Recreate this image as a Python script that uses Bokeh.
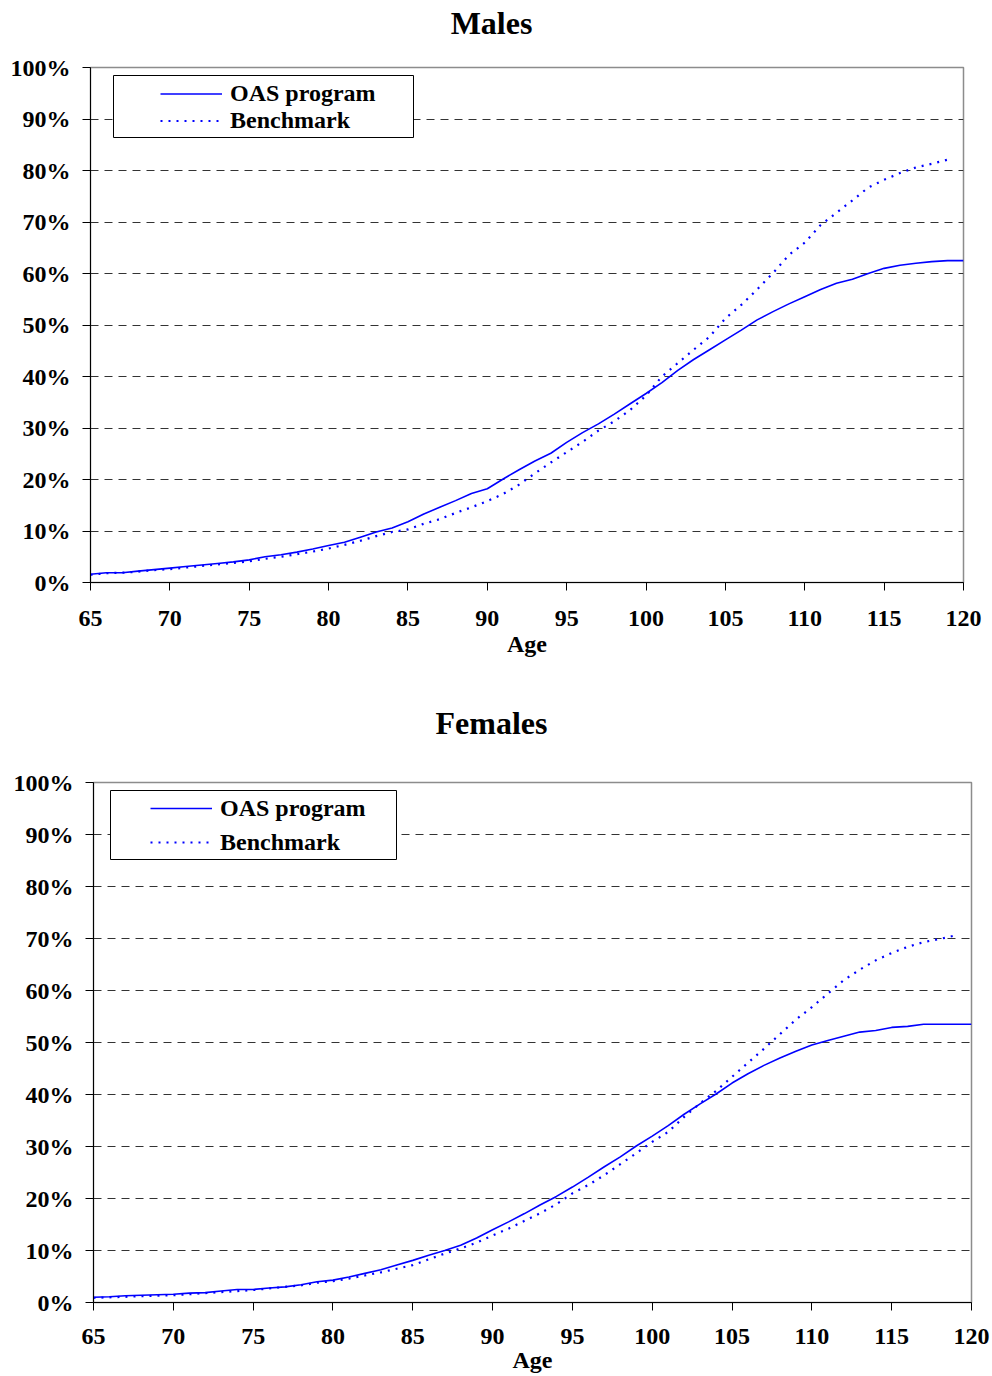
from bokeh.plotting import figure
from bokeh.models import (Range1d, FixedTicker, PrintfTickFormatter, Legend, LegendItem,
                          BoxAnnotation, Label)
from bokeh.embed import file_html
from bokeh.resources import INLINE

# ---------------- data ----------------
ages_oas = list(range(65, 121))
ages_bench = list(range(65, 120))

males_oas = [1.6, 1.9, 1.9, 2.2, 2.5, 2.8, 3.1, 3.4, 3.7, 4.0,
             4.4, 5.0, 5.4, 5.9, 6.5, 7.2, 7.8, 8.8, 9.8, 10.6,
             11.8, 13.3, 14.6, 15.9, 17.3, 18.2, 20.1, 21.9, 23.6, 25.1,
             27.2, 29.1, 30.8, 32.7, 34.7, 36.7, 38.8, 41.2, 43.3, 45.2,
             47.1, 49.0, 51.0, 52.6, 54.1, 55.5, 56.9, 58.1, 58.9, 60.0,
             61.0, 61.6, 62.0, 62.3, 62.5, 62.5]
males_bench = [1.5, 1.8, 1.9, 2.1, 2.4, 2.6, 2.9, 3.2, 3.5, 3.8,
               4.1, 4.6, 5.0, 5.5, 6.0, 6.6, 7.3, 8.1, 9.0, 9.8,
               10.3, 11.4, 12.3, 13.5, 14.6, 15.8, 17.2, 19.0, 21.2, 23.3,
               25.3, 27.3, 29.5, 31.3, 33.5, 36.3, 40.0, 42.6, 45.2, 47.7,
               51.3, 53.9, 56.9, 60.1, 63.6, 66.0, 69.4, 71.8, 74.2, 76.7,
               78.2, 79.5, 80.6, 81.3, 82.1]
females_oas = [1.0, 1.1, 1.3, 1.4, 1.5, 1.6, 1.8, 1.9, 2.2, 2.5,
               2.5, 2.8, 3.0, 3.4, 4.0, 4.3, 4.9, 5.6, 6.3, 7.2,
               8.1, 9.1, 10.0, 11.0, 12.4, 14.0, 15.5, 17.1, 18.8, 20.4,
               22.2, 24.1, 26.1, 28.0, 30.1, 32.0, 34.0, 36.2, 38.2, 40.1,
               42.2, 44.0, 45.6, 47.0, 48.3, 49.5, 50.4, 51.2, 52.0, 52.3,
               52.9, 53.1, 53.5, 53.5, 53.5, 53.5]
females_bench = [0.9, 1.0, 1.1, 1.2, 1.3, 1.4, 1.6, 1.8, 2.0, 2.2,
                 2.4, 2.7, 3.0, 3.3, 3.8, 4.1, 4.6, 5.2, 5.8, 6.5,
                 7.2, 8.3, 9.4, 10.4, 11.5, 12.9, 14.2, 15.7, 17.2, 18.9,
                 21.0, 22.6, 24.5, 26.6, 28.7, 30.9, 32.8, 35.7, 38.3, 40.7,
                 43.4, 46.1, 48.8, 51.6, 54.4, 56.8, 59.4, 62.0, 64.0, 65.8,
                 67.2, 68.4, 69.3, 69.9, 70.6]

x_ticks = list(range(65, 121, 5))
y_ticks = list(range(0, 101, 10))
series_labels = ["OAS program", "Benchmark"]
titles = ["Males", "Females"]

FONT = "Liberation Serif"
BLUE = "#0000FF"
TXT = "24px"


def make_panel(title, oas, bench, width, height, borders, title_xy,
               legend_xy, row_h, box, tick_standoff, label_standoff):
    left, right, top, bottom = borders
    p = figure(width=width, height=height, output_backend="svg", toolbar_location=None,
               title=None,
               x_range=Range1d(65, 120), y_range=Range1d(0, 100),
               min_border_left=left, min_border_right=right,
               min_border_top=top, min_border_bottom=bottom)
    p.outline_line_color = "#8c8c8c"
    p.outline_line_width = 1.5

    for ax in (p.xaxis[0], p.yaxis[0]):
        ax.axis_line_color = "black"
        ax.major_tick_line_color = "black"
        ax.major_tick_out = 8
        ax.major_tick_in = 0
        ax.minor_tick_line_color = None
        ax.major_label_text_font = FONT
        ax.major_label_text_font_size = TXT
        ax.major_label_text_font_style = "bold"
        ax.major_label_text_color = "black"
        ax.major_label_text_line_height = 1.0
    p.xaxis.ticker = FixedTicker(ticks=x_ticks)
    p.yaxis.ticker = FixedTicker(ticks=y_ticks)
    p.yaxis.formatter = PrintfTickFormatter(format="%d%%")
    p.xaxis.major_label_standoff = tick_standoff
    p.yaxis.major_label_standoff = 12
    p.xaxis.axis_label = "Age"
    p.xaxis.axis_label_text_font = FONT
    p.xaxis.axis_label_text_font_size = TXT
    p.xaxis.axis_label_text_font_style = "bold"
    p.xaxis.axis_label_text_color = "black"
    p.xaxis.axis_label_text_line_height = 1.0
    p.xaxis.axis_label_standoff = label_standoff

    p.xgrid.visible = False
    p.ygrid.ticker = FixedTicker(ticks=y_ticks[1:-1])
    p.ygrid.grid_line_color = "#333333"
    p.ygrid.grid_line_dash = "8 6"
    p.ygrid.grid_line_width = 1

    r1 = p.line(ages_oas, oas, line_color=BLUE, line_width=1.6)
    r2 = p.line(ages_bench, bench, line_color=BLUE, line_width=2.2, line_dash="2 6")

    frame_h = height - top - bottom
    bl, br, bt, bb = box
    p.add_layout(BoxAnnotation(left=bl, right=br, top=frame_h - bt, bottom=frame_h - bb,
                               left_units="screen", right_units="screen",
                               top_units="screen", bottom_units="screen",
                               fill_color="white", fill_alpha=1.0,
                               line_color="black", line_width=1, line_alpha=1.0))
    legend = Legend(items=[LegendItem(label=series_labels[0], renderers=[r1]),
                           LegendItem(label=series_labels[1], renderers=[r2])],
                    location=legend_xy, glyph_width=62, glyph_height=row_h,
                    label_height=row_h, spacing=0, padding=0, margin=0,
                    label_standoff=8, border_line_alpha=0, background_fill_alpha=0,
                    label_text_font=FONT, label_text_font_size=TXT,
                    label_text_font_style="bold", label_text_color="black")
    p.add_layout(legend)

    tx, ty = title_xy
    p.add_layout(Label(x=tx, y=ty, x_units="screen", y_units="screen",
                       text=title, text_align="center", text_baseline="middle",
                       text_font=FONT, text_font_size="32px", text_font_style="bold",
                       text_color="black"), "above")
    return p


p1 = make_panel(titles[0], males_oas, males_bench, 992, 696, (90, 29, 67, 114),
                (401, 45), (70, 448), 27, (23, 323, 8, 70), 20, 2)
p2 = make_panel(titles[1], females_oas, females_bench, 992, 680, (93, 21, 86, 74),
                (398, 60), (57, 443), 34, (17, 303, 8, 77), 18, 0)

open("out.html", "w").write(file_html([p1, p2], INLINE))
